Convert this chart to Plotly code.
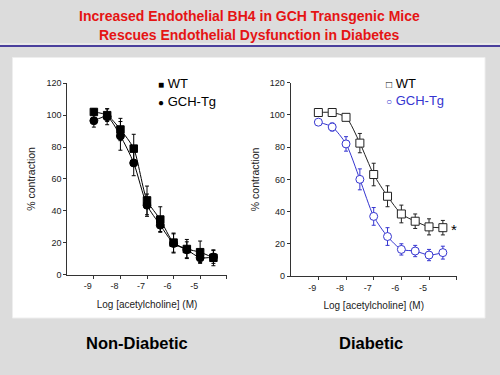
import plotly.graph_objects as go

# ---- data ----
log_ach = [-9, -8.5, -8, -7.5, -7, -6.5, -6, -5.5, -5, -4.5]

nd_wt = [102, 100, 91, 79, 46.5, 34.5, 20, 16, 14, 10.5]
nd_wt_err = [2, 4, 7, 9, 9, 8, 6, 6, 7, 5]
nd_gch = [96.5, 99, 87, 70, 43.5, 31, 19.5, 15.5, 10.5, 11]
nd_gch_err = [4, 5, 9, 8, 7, 4, 6, 5, 3, 4]

db_wt = [101.5, 101.5, 98.5, 82.5, 63, 49.5, 38.5, 34, 30.5, 30]
db_wt_err = [1, 1, 1.5, 6, 7, 6.5, 5.5, 4.5, 5, 4.5]
db_gch = [95.5, 92.5, 82, 60, 37, 24.5, 16.5, 15.5, 13, 14.5]
db_gch_err = [1, 2.5, 4.5, 6.5, 5.5, 5.5, 3.5, 3.5, 3.5, 4]

x_tickvals = [-9, -8, -7, -6, -5, -4]
x_ticktext = ["-9", "-8", "-7", "-6", "-5", ""]
y_tickvals = [0, 20, 40, 60, 80, 100, 120]

title_lines = ["Increased Endothelial BH4 in GCH Transgenic Mice",
               "Rescues Endothelial Dysfunction in Diabetes"]
panel_labels = ["Non-Diabetic", "Diabetic"]

BLUE = "#3535d0"
FONT = "Liberation Sans, Arial, sans-serif"
W, H = 500, 375

fig = go.Figure()

def add_series(x, y, err, xa, ya, symbol, fill, line_col, size):
    fig.add_trace(go.Scatter(
        x=x, y=y, xaxis=xa, yaxis=ya, mode="lines+markers",
        line=dict(color=line_col, width=1, shape="spline", smoothing=0.7),
        marker=dict(symbol=symbol, size=size, color=fill,
                    line=dict(color=line_col, width=1)),
        error_y=dict(type="data", array=err, visible=True, color=line_col,
                     thickness=1, width=2),
        showlegend=False, cliponaxis=False))

add_series(log_ach, nd_gch, nd_gch_err, "x", "y", "circle", "black", "black", 8)
add_series(log_ach, nd_wt, nd_wt_err, "x", "y", "square", "black", "black", 7.5)
add_series(log_ach, db_wt, db_wt_err, "x2", "y2", "square", "white", "#222222", 8)
add_series(log_ach, db_gch, db_gch_err, "x2", "y2", "circle", "white", BLUE, 8)

axis_common = dict(showline=True, linecolor="#333333", linewidth=1, ticks="outside",
                   ticklen=3, tickcolor="#333333", showgrid=False, zeroline=False,
                   automargin=False,
                   tickfont=dict(family=FONT, size=9, color="#222222"))

def xaxis(domain, anchor):
    return dict(axis_common, domain=domain, anchor=anchor, range=[-10, -4],
                tickvals=x_tickvals, ticktext=x_ticktext, ticklabelshift=-6,
                title=dict(text="Log [acetylcholine] (M)", standoff=10,
                           font=dict(family=FONT, size=10, color="#222222")))

def yaxis(domain, anchor):
    return dict(axis_common, domain=domain, anchor=anchor, range=[0, 120],
                tickvals=y_tickvals,
                title=dict(text="% contraction", standoff=8,
                           font=dict(family=FONT, size=10.5, color="#222222")))

fig.update_layout(
    width=W, height=H, margin=dict(l=0, r=0, t=0, b=0, pad=0, autoexpand=False),
    paper_bgcolor="#dcdcdc", plot_bgcolor="rgba(0,0,0,0)",
    xaxis=xaxis([67.3 / W, 226.7 / W], "y"),
    yaxis=yaxis([1 - 274.5 / H, 1 - 83.3 / H], "x"),
    xaxis2=xaxis([290.7 / W, 456.7 / W], "y2"),
    yaxis2=yaxis([1 - 276 / H, 1 - 82.7 / H], "x2"),
)

# panel and header rule
fig.add_shape(type="rect", xref="paper", yref="paper",
              x0=12.5 / W, x1=485 / W, y0=1 - 318 / H, y1=1 - 57.5 / H,
              fillcolor="white", line=dict(color="#eeeeee", width=1), layer="below")
fig.add_shape(type="line", xref="paper", yref="paper", x0=0, x1=1,
              y0=1 - 44 / H, y1=1 - 44 / H, line=dict(color="#f4f4f4", width=1))
fig.add_shape(type="line", xref="paper", yref="paper", x0=0, x1=1,
              y0=1 - 46 / H, y1=1 - 46 / H, line=dict(color="#4a3f9c", width=2))

def ann(text, x, y, size, color="black", bold=False, xanchor="center"):
    fig.add_annotation(text=f"<b>{text}</b>" if bold else text,
                       xref="paper", yref="paper", x=x / W, y=1 - y / H,
                       xanchor=xanchor, yanchor="middle", showarrow=False,
                       font=dict(family=FONT, size=size, color=color))

ann(title_lines[0], 249, 15.5, 14, "#e51414", bold=True)
ann(title_lines[1], 249, 35, 14, "#e51414", bold=True)
ann(panel_labels[0], 137, 343, 16.5, bold=True)
ann(panel_labels[1], 371, 343, 16.5, bold=True)

# legends
ann("<span style='font-size:10px'>■</span> WT", 155.5, 83.5, 13)
ann("<span style='font-size:10px'>●</span> GCH-Tg", 155.5, 101.5, 13)
ann("<span style='font-size:10px'>□</span> WT", 383.5, 83, 13)
ann("<span style='font-size:10px'>○</span> GCH-Tg", 383.5, 101, 13, color=BLUE)
for a in fig.layout.annotations[-4:]:
    a.xanchor = "left"

# significance asterisk
fig.add_annotation(text="*", xref="x2", yref="y2", x=-4.1, y=29, showarrow=False,
                   font=dict(family=FONT, size=15, color="black"))

fig.write_html(
    "out.html",
    config={"displayModeBar": False, "responsive": False},
    post_script=("document.documentElement.style.margin='0';"
                 "document.documentElement.style.overflow='hidden';"
                 "document.body.style.margin='0';document.body.style.padding='0';"
                 "document.body.style.overflow='hidden';"),
)
